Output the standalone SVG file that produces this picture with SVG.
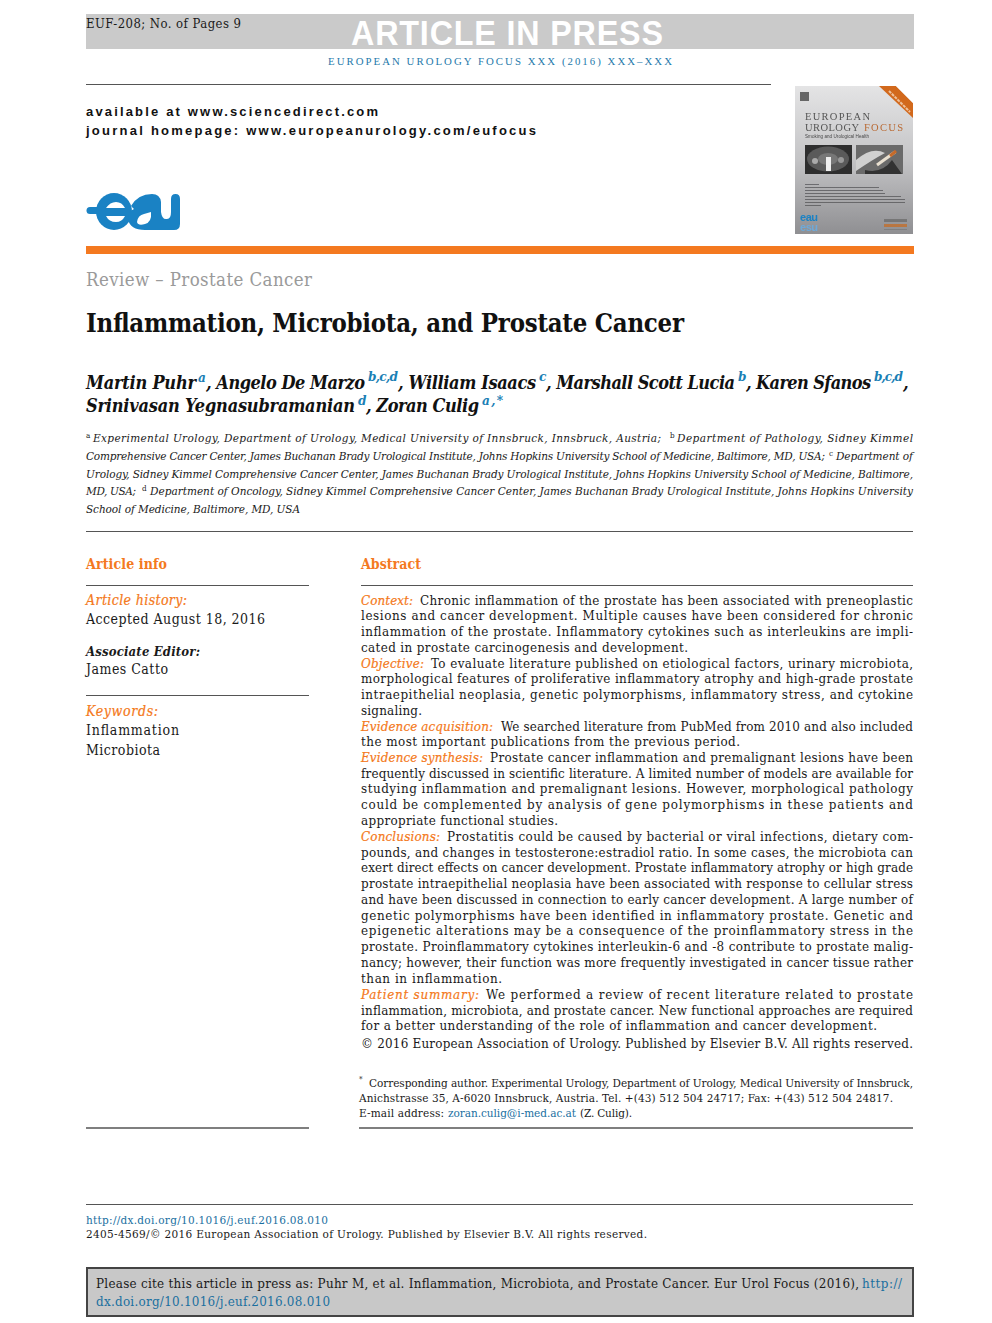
<svg xmlns="http://www.w3.org/2000/svg" width="992" height="1323" viewBox="0 0 992 1323">
<style>
text{font-family:"DejaVu Serif Condensed","DejaVu Serif",serif;font-stretch:condensed;fill:#1a1a1a;white-space:pre}
.b{font-size:13.3px}
.o{font-size:13.3px;font-style:italic;fill:#f47920;stroke:#f47920;stroke-width:0.2}
.m{font-size:11.7px;font-style:italic}
.f{font-size:11.7px}
.h{font-size:14px;font-weight:bold;fill:#f47920}
.au{font-size:18px;font-weight:bold;font-style:italic;fill:#111}
.s{font-size:13.5px;font-weight:bold;font-style:italic;fill:#1a7fb5}
.sup{font-size:8px}
.l{fill:#1a6f9f}
.u{font-family:"Liberation Sans",Arial,sans-serif;font-size:13px;font-weight:bold;fill:#111;font-stretch:normal}
.r{stroke:#555;stroke-width:1;fill:none}
</style>
<defs>
<linearGradient id="cov" x1="0" y1="0" x2="0" y2="1"><stop offset="0" stop-color="#e4e4e5"/><stop offset="0.5" stop-color="#c4c4c6"/><stop offset="1" stop-color="#8f8f92"/></linearGradient>
<filter id="soft" x="-5%" y="-5%" width="110%" height="110%"><feGaussianBlur stdDeviation="0.45"/></filter>
</defs>
<rect width="992" height="1323" fill="#fff"/>

<g id="header">
<rect x="86" y="14" width="828" height="35" fill="#cacaca"/>
<text x="86" y="28" font-size="13" textLength="155">EUF-208; No. of Pages 9</text>
<text transform="translate(351,45) scale(1,1.1)" style="font-family:'Liberation Sans',Arial,sans-serif;font-size:32.3px;font-weight:bold;fill:#fff;font-stretch:normal" textLength="312">ARTICLE IN PRESS</text>
<text x="328" y="65" style="font-family:'Liberation Serif',serif;font-size:10.8px;fill:#1f7aab;font-stretch:normal" textLength="344">EUROPEAN UROLOGY FOCUS XXX (2016) XXX–XXX</text>
<line x1="86" y1="84.5" x2="771" y2="84.5" class="r"/>
<text class="u" x="86" y="116" textLength="292">available at www.sciencedirect.com</text>
<text class="u" x="86" y="135" textLength="450">journal homepage: www.europeanurology.com/eufocus</text>
</g>

<g id="eau-logo" fill="#1a82c4">
<rect x="86.500" y="207" width="24" height="7" rx="3.500"/>
<ellipse cx="114" cy="211.500" rx="18" ry="18.500"/>
<path d="M131 206Q138 194 152 194Q160 194 161 202V212Q162 220 167 219Q171 219 171 212V199Q171 194 175.500 194Q180 194 180 199V224Q180 230 174 230H145Q130 230 128 219Q128 211 134 209Z"/>
<path d="M106 208Q110 202 116 202Q122 202 125 208Z" fill="#fff"/>
<path d="M106 216H125Q122 222 116 222Q109 222 106 216Z" fill="#fff"/>
<path d="M137 222Q138 215 144 214L151 212Q152 222 145 224Q138 226 137 222Z" fill="#fff"/>
</g>

<g id="cover" filter="url(#soft)">
<rect x="795" y="86" width="118" height="148" fill="url(#cov)"/>
<path d="M879 86H896L913 103V118Z" fill="#d2691e"/>
<path d="M896 86H913V103Z" fill="#fff"/>
<path d="M889 91L910 112" stroke="#eec29c" stroke-width="2" stroke-dasharray="3 1"/>
<rect x="800" y="92" width="9" height="9" fill="#666"/>
<text x="805" y="120" style="font-family:'Liberation Serif',serif;font-size:10.5px;fill:#555;font-stretch:normal" textLength="65">EUROPEAN</text>
<text x="805" y="131" style="font-family:'Liberation Serif',serif;font-size:10.5px;fill:#555;font-stretch:normal" textLength="54">UROLOGY</text>
<text x="864" y="131" style="font-family:'Liberation Serif',serif;font-size:10.5px;fill:#b96a35;font-stretch:normal" textLength="39">FOCUS</text>
<text x="805" y="138" style="font-family:'Liberation Sans',sans-serif;font-size:4.500px;fill:#444;font-stretch:normal" textLength="64">Smoking and Urological Health</text>
<rect x="805" y="145" width="47" height="29" fill="#2e2e2e"/>
<ellipse cx="828" cy="159" rx="21" ry="12.500" fill="#5a5a5a"/>
<ellipse cx="828" cy="159" rx="10" ry="6" fill="#777"/>
<rect x="826" y="157" width="5" height="14" fill="#eee"/>
<circle cx="815" cy="161" r="3" fill="#aaa"/><circle cx="841" cy="160" r="3" fill="#999"/>
<rect x="856" y="145" width="47" height="29" fill="#6a6a6a"/>
<path d="M856 160Q872 146 885 153Q872 160 856 171Z" fill="#d0d0d0"/>
<path d="M865 170Q882 174 892 160L902 174H865Z" fill="#333"/>
<path d="M877 165L895 152" stroke="#e9e0d0" stroke-width="3"/><path d="M890 156L896 151" stroke="#c66b2b" stroke-width="3"/>
<g fill="#4f4f52" opacity="0.7">
<rect x="805" y="184" width="14" height="1"/><rect x="805" y="187" width="74" height="1"/><rect x="805" y="190" width="78" height="1"/><rect x="805" y="193" width="80" height="1"/><rect x="805" y="196" width="96" height="1"/><rect x="805" y="199" width="100" height="1"/><rect x="805" y="202" width="100" height="1"/><rect x="805" y="205" width="16" height="1"/>
</g>
<text x="800" y="221" style="font-family:'Liberation Sans',sans-serif;font-size:11px;font-weight:bold;fill:#1a82c4;font-stretch:normal" textLength="18">eau</text>
<text x="800" y="231" style="font-family:'Liberation Sans',sans-serif;font-size:11px;font-weight:bold;fill:#6ea9d8;font-stretch:normal" textLength="18">esu</text>
<rect x="884" y="219" width="23" height="3" fill="#666" opacity="0.7"/>
<rect x="884" y="224" width="23" height="3" fill="#c8691e" opacity="0.7"/>
<rect x="884" y="229" width="23" height="1" fill="#777" opacity="0.7"/>
</g>

<rect id="bar" x="86" y="246" width="828" height="8" fill="#f47920"/>

<g id="title">
<text x="86" y="286" style="font-size:18.5px;fill:#9a9a9a" textLength="226">Review – Prostate Cancer</text>
<text x="86" y="332" style="font-size:25.5px;font-weight:bold;fill:#111" textLength="598">Inflammation, Microbiota, and Prostate Cancer</text>
</g>

<g id="authors">
<text class="au" x="86" y="389" textLength="110">Martin Puhr</text><text class="s" x="198" y="382" textLength="8">a</text>
<text class="au" x="206" y="389" textLength="159">, Angelo De Marzo</text><text class="s" x="368" y="381" textLength="30">b,c,d</text>
<text class="au" x="398" y="389" textLength="138">, William Isaacs</text><text class="s" x="539" y="381" textLength="7">c</text>
<text class="au" x="546" y="389" textLength="189">, Marshall Scott Lucia</text><text class="s" x="738" y="381" textLength="8">b</text>
<text class="au" x="746" y="389" textLength="125">, Karen Sfanos</text><text class="s" x="874" y="381" textLength="29">b,c,d</text>
<text class="au" x="903" y="389">,</text>
<text class="au" x="86" y="412" textLength="269">Srinivasan Yegnasubramanian</text><text class="s" x="358" y="405" textLength="8">d</text>
<text class="au" x="366" y="412" textLength="113">, Zoran Culig</text><text class="s" x="482" y="405" textLength="21">a,*</text>
</g>

<g id="affiliations">
<text class="sup" x="86" y="438">a</text><text class="m" x="93" y="442" textLength="568">Experimental Urology, Department of Urology, Medical University of Innsbruck, Innsbruck, Austria;</text><text class="sup" x="670" y="438">b</text><text class="m" x="677" y="442" textLength="236">Department of Pathology, Sidney Kimmel</text>
<text class="m" x="86" y="460" textLength="739">Comprehensive Cancer Center, James Buchanan Brady Urological Institute, Johns Hopkins University School of Medicine, Baltimore, MD, USA;</text><text class="sup" x="829" y="456">c</text><text class="m" x="836" y="460" textLength="77">Department of</text>
<text class="m" x="86" y="478" textLength="827">Urology, Sidney Kimmel Comprehensive Cancer Center, James Buchanan Brady Urological Institute, Johns Hopkins University School of Medicine, Baltimore,</text>
<text class="m" x="86" y="495" textLength="50">MD, USA;</text><text class="sup" x="142" y="491">d</text><text class="m" x="150" y="495" textLength="763">Department of Oncology, Sidney Kimmel Comprehensive Cancer Center, James Buchanan Brady Urological Institute, Johns Hopkins University</text>
<text class="m" x="86" y="513" textLength="214">School of Medicine, Baltimore, MD, USA</text>
</g>
<line x1="86" y1="531.500" x2="913" y2="531.500" class="r"/>

<g id="article-info">
<text class="h" x="86" y="569" textLength="81">Article info</text>
<line x1="86" y1="585.500" x2="309" y2="585.500" class="r"/>
<text x="86" y="605" style="font-size:14px;font-style:italic;fill:#f47920;stroke:#f47920;stroke-width:0.2" textLength="101">Article history:</text>
<text x="86" y="624" style="font-size:14px" textLength="179">Accepted August 18, 2016</text>
<text x="86" y="656" style="font-size:13px;font-style:italic;font-weight:bold" textLength="114">Associate Editor:</text>
<text x="86" y="674" style="font-size:14px" textLength="82">James Catto</text>
<line x1="86" y1="695.500" x2="309" y2="695.500" class="r"/>
<text x="86" y="716" style="font-size:14px;font-style:italic;fill:#f47920;stroke:#f47920;stroke-width:0.2" textLength="72">Keywords:</text>
<text x="86" y="735" style="font-size:14px" textLength="93">Inflammation</text>
<text x="86" y="755" style="font-size:14px" textLength="74">Microbiota</text>
</g>

<g id="abstract">
<text class="h" x="361" y="569" textLength="60">Abstract</text>
<line x1="361" y1="585.500" x2="913" y2="585.500" class="r"/>
<text class="o" x="361" y="605" textLength="52">Context:</text><text class="b" x="420" y="605" textLength="493">Chronic inflammation of the prostate has been associated with preneoplastic</text>
<text class="b" x="361" y="620" textLength="552">lesions and cancer development. Multiple causes have been considered for chronic</text>
<text class="b" x="361" y="636" textLength="552">inflammation of the prostate. Inflammatory cytokines such as interleukins are impli-</text>
<text class="b" x="361" y="651.500" textLength="327">cated in prostate carcinogenesis and development.</text>
<text class="o" x="361" y="667.500" textLength="63">Objective:</text><text class="b" x="431" y="667.500" textLength="482">To evaluate literature published on etiological factors, urinary microbiota,</text>
<text class="b" x="361" y="683" textLength="552">morphological features of proliferative inflammatory atrophy and high-grade prostate</text>
<text class="b" x="361" y="699" textLength="552">intraepithelial neoplasia, genetic polymorphisms, inflammatory stress, and cytokine</text>
<text class="b" x="361" y="714.500" textLength="61">signaling.</text>
<text class="o" x="361" y="730.500" textLength="132">Evidence acquisition:</text><text class="b" x="501" y="730.500" textLength="412">We searched literature from PubMed from 2010 and also included</text>
<text class="b" x="361" y="746" textLength="379">the most important publications from the previous period.</text>
<text class="o" x="361" y="762" textLength="122">Evidence synthesis:</text><text class="b" x="490" y="762" textLength="423">Prostate cancer inflammation and premalignant lesions have been</text>
<text class="b" x="361" y="777.500" textLength="552">frequently discussed in scientific literature. A limited number of models are available for</text>
<text class="b" x="361" y="793" textLength="552">studying inflammation and premalignant lesions. However, morphological pathology</text>
<text class="b" x="361" y="809" textLength="552">could be complemented by analysis of gene polymorphisms in these patients and</text>
<text class="b" x="361" y="825" textLength="197">appropriate functional studies.</text>
<text class="o" x="361" y="841" textLength="79">Conclusions:</text><text class="b" x="447" y="841" textLength="466">Prostatitis could be caused by bacterial or viral infections, dietary com-</text>
<text class="b" x="361" y="856.500" textLength="552">pounds, and changes in testosterone:estradiol ratio. In some cases, the microbiota can</text>
<text class="b" x="361" y="872" textLength="552">exert direct effects on cancer development. Prostate inflammatory atrophy or high grade</text>
<text class="b" x="361" y="888" textLength="552">prostate intraepithelial neoplasia have been associated with response to cellular stress</text>
<text class="b" x="361" y="904" textLength="552">and have been discussed in connection to early cancer development. A large number of</text>
<text class="b" x="361" y="919.500" textLength="552">genetic polymorphisms have been identified in inflammatory prostate. Genetic and</text>
<text class="b" x="361" y="935" textLength="552">epigenetic alterations may be a consequence of the proinflammatory stress in the</text>
<text class="b" x="361" y="951" textLength="552">prostate. Proinflammatory cytokines interleukin-6 and -8 contribute to prostate malig-</text>
<text class="b" x="361" y="967" textLength="552">nancy; however, their function was more frequently investigated in cancer tissue rather</text>
<text class="b" x="361" y="983" textLength="141">than in inflammation.</text>
<text class="o" x="361" y="999" textLength="118">Patient summary:</text><text class="b" x="486" y="999" textLength="427">We performed a review of recent literature related to prostate</text>
<text class="b" x="361" y="1014.500" textLength="552">inflammation, microbiota, and prostate cancer. New functional approaches are required</text>
<text class="b" x="361" y="1030" textLength="516">for a better understanding of the role of inflammation and cancer development.</text>
<text class="b" x="361" y="1048" textLength="552">© 2016 European Association of Urology. Published by Elsevier B.V. All rights reserved.</text>
</g>

<g id="footnote">
<text class="sup" x="359" y="1082">*</text><text class="f" x="369" y="1087" textLength="544">Corresponding author. Experimental Urology, Department of Urology, Medical University of Innsbruck,</text>
<text class="f" x="359" y="1102" textLength="534">Anichstrasse 35, A-6020 Innsbruck, Austria. Tel. +(43) 512 504 24717; Fax: +(43) 512 504 24817.</text>
<text class="f" x="359" y="1117" textLength="85">E-mail address:</text><text class="f l" x="448" y="1117" textLength="128">zoran.culig@i-med.ac.at</text><text class="f" x="580" y="1117" textLength="52">(Z. Culig).</text>
<line x1="86" y1="1128" x2="309" y2="1128" stroke="#555" stroke-width="1.500"/>
<line x1="359" y1="1128" x2="913" y2="1128" stroke="#555" stroke-width="1.500"/>
</g>

<g id="doi">
<line x1="86" y1="1204.500" x2="913" y2="1204.500" class="r"/>
<text class="f l" x="86" y="1224" textLength="242">http://dx.doi.org/10.1016/j.euf.2016.08.010</text>
<text class="f" x="86" y="1238" textLength="561">2405-4569/© 2016 European Association of Urology. Published by Elsevier B.V. All rights reserved.</text>
</g>

<g id="citation">
<rect x="87" y="1268" width="826" height="48" fill="#c8c8c8" stroke="#444" stroke-width="2"/>
<text class="b" x="96" y="1288" textLength="763">Please cite this article in press as: Puhr M, et al. Inflammation, Microbiota, and Prostate Cancer. Eur Urol Focus (2016),</text>
<text class="b l" x="862" y="1288" textLength="40">http://</text>
<text class="b l" x="96" y="1306" textLength="234">dx.doi.org/10.1016/j.euf.2016.08.010</text>
</g>
</svg>
